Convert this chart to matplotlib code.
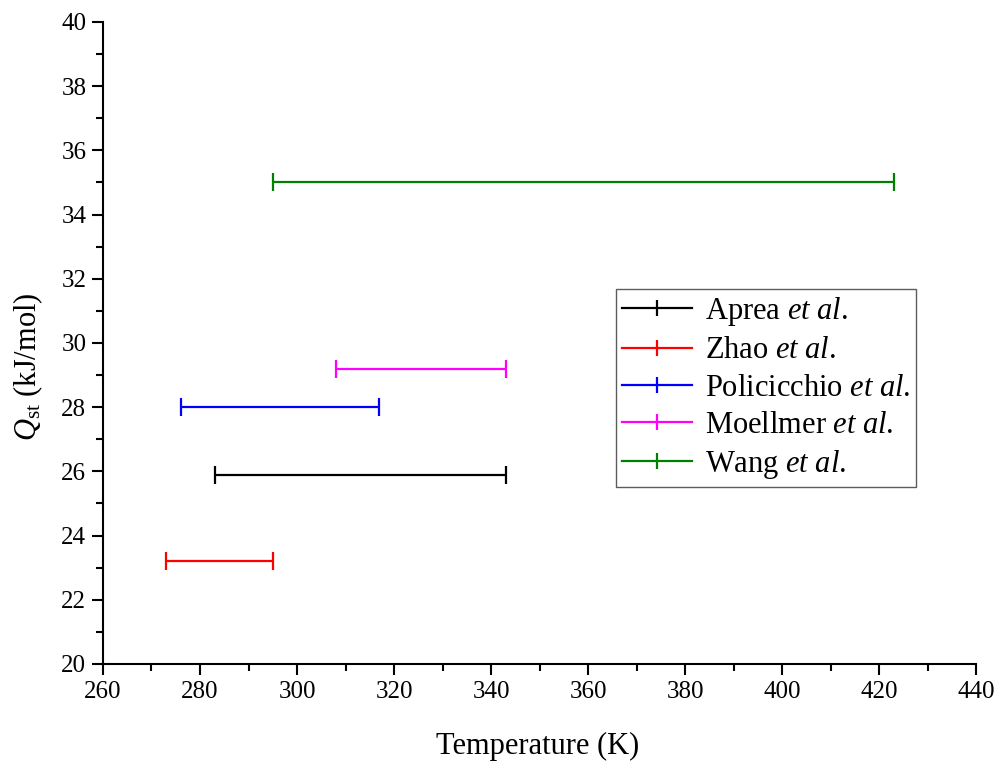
import matplotlib
matplotlib.use("Agg")
import matplotlib.pyplot as plt
from matplotlib.lines import Line2D
from matplotlib.ticker import MultipleLocator

plt.rcParams['font.family'] = ['Liberation Serif', 'DejaVu Serif']
plt.rcParams['mathtext.fontset'] = 'custom'
plt.rcParams['mathtext.rm'] = 'Liberation Serif'
plt.rcParams['mathtext.it'] = 'Liberation Serif:italic'

authors = ["Aprea", "Zhao", "Policicchio", "Moellmer", "Wang"]
t_low = [283, 273, 276, 308, 295]
t_high = [343, 295, 317, 343, 423]
qst = [25.9, 23.2, 28.0, 29.2, 35.0]
colors = ["black", "red", "blue", "magenta", "green"]

fig = plt.figure(figsize=(9.98, 7.61), dpi=100)
ax = fig.add_axes([0.1032, 0.1275, 0.8748, 0.8436])

handles = []
for name, lo, hi, q, c in zip(authors, t_low, t_high, qst, colors):
    center = (lo + hi) / 2
    half = (hi - lo) / 2
    ax.errorbar([center], [q], xerr=[half], fmt='none', ecolor=c,
                elinewidth=1.6, capsize=6.5, capthick=1.6)
    handles.append(Line2D([], [], color=c, lw=1.6, marker='|',
                          markersize=11, markeredgewidth=1.6,
                          label=name + r" $\mathit{et\ al}$."))

ax.set_xlim(260, 440)
ax.set_ylim(20, 40)
ax.xaxis.set_major_locator(MultipleLocator(20))
ax.xaxis.set_minor_locator(MultipleLocator(10))
ax.yaxis.set_major_locator(MultipleLocator(2))
ax.yaxis.set_minor_locator(MultipleLocator(1))

for s in ['top', 'right']:
    ax.spines[s].set_visible(False)
for s in ['left', 'bottom']:
    ax.spines[s].set_linewidth(1.5)

ax.tick_params(which='major', direction='out', length=8, width=1.5,
               labelsize=18, pad=4)
ax.tick_params(which='minor', direction='out', length=5, width=1.5)

ax.set_xlabel("Temperature (K)", fontsize=22)
ax.set_ylabel(r"$\mathit{Q}_{\mathrm{st}}$ (kJ/mol)", fontsize=22)
ax.xaxis.set_label_coords(0.498, -0.106)
ax.yaxis.set_label_coords(-0.066, 0.463)

leg = ax.legend(handles=handles, loc='upper left',
                bbox_to_anchor=(0.5876, 0.584), borderaxespad=0,
                fontsize=22, frameon=True, fancybox=False,
                handlelength=2.3, handletextpad=0.4, labelspacing=0.27,
                borderpad=0.2)
leg.get_frame().set_edgecolor('#333333')
leg.get_frame().set_linewidth(1.0)

fig.savefig("out.png", dpi=100)
